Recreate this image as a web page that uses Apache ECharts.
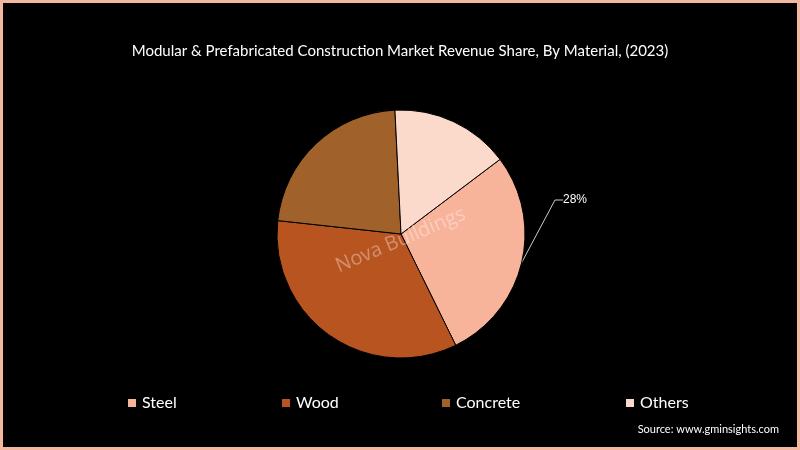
<!DOCTYPE html><html><head><meta charset="utf-8">
<script src="https://cdn.jsdelivr.net/npm/echarts@6/dist/echarts.min.js"></script>
<style>html,body{margin:0;background:#000}#c{width:800px;height:450px;box-sizing:border-box;border:3px solid #f4b7a0}</style></head><body><div id="c"></div><script>
const categories=['Steel','Wood','Concrete','Others'];
const values=[28,34,22.5,15.5];
const colors=['#f8b39b','#b8541f','#a0622a','#fcdacb'];
const legendX=[118,272,432,616];
const ch=echarts.init(document.getElementById('c'));
ch.setOption({
 backgroundColor:'#000',
 title:{text:'Modular & Prefabricated Construction Market Revenue Share, By Material, (2023)',left:'center',top:36,textStyle:{color:'#fff',fontSize:15,fontWeight:'normal',fontFamily:'Lato'}},
 legend:categories.map((c,i)=>({data:[c],left:legendX[i],top:387,icon:'rect',itemWidth:10,itemHeight:10,textStyle:{color:'#fff',fontSize:16,fontFamily:'Lato'}})),
 graphic:[
  {type:'text',right:18,bottom:12,style:{text:'Source: www.gminsights.com',fill:'#fff',fontSize:11,fontFamily:'Lato'}},
  {type:'text',x:330,y:255,rotation:0.4,style:{text:'Nova Buildings',fill:'rgba(255,255,255,0.35)',fontSize:20,fontFamily:'Open Sans'},z:100}
 ],
 series:[{type:'pie',center:[398,231],radius:124,startAngle:37,clockwise:true,
  data:categories.map((c,i)=>({name:c,value:values[i],itemStyle:{color:colors[i]},
   label:{show:i===0,formatter:'28%',color:'#fff',fontSize:12},labelLine:{show:i===0,lineStyle:{color:'#fff',width:0.8}}})),
  itemStyle:{borderColor:'#000',borderWidth:1},
  label:{position:'outside'},labelLine:{length:40,length2:8},
  labelLayout:{x:572,y:197,align:'center'}
 }]
});
</script></body></html>
